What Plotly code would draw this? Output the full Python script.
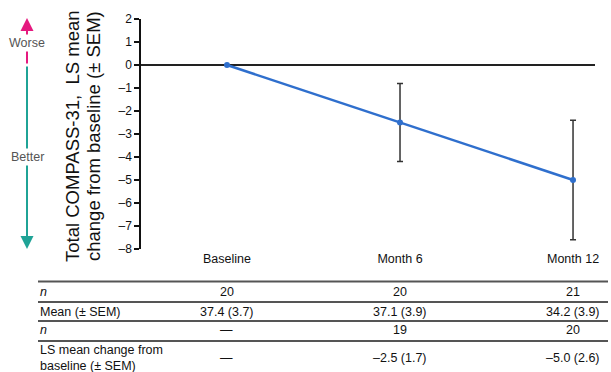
import plotly.graph_objects as go

# ---- data ----
timepoints = ["Baseline", "Month 6", "Month 12"]
ls_change = [0.0, -2.5, -5.0]
ls_sem = [None, 1.7, 2.6]
n_obs = [20, 20, 21]
mean_obs = [37.4, 37.1, 34.2]
sem_obs = [3.7, 3.9, 3.9]
n_change = [None, 19, 20]
y_ticks = list(range(-8, 3))

FONT = "Liberation Sans, Arial, sans-serif"

# plot-area geometry (pixels)
L, R, T, B = 141, 595, 19, 249
W, H = R - L, B - T


def px(x):
    return (x - L) / W


def py(y):
    return (B - y) / H


def dash(v):
    return str(v).replace("-", "–")


xs = list(range(len(timepoints)))

fig = go.Figure()
fig.add_trace(go.Scatter(
    x=xs, y=ls_change, mode="lines+markers",
    line=dict(color="#2f6fcd", width=2.5),
    marker=dict(color="#2f6fcd", size=6),
    error_y=dict(type="data", array=ls_sem, visible=True,
                 color="#333333", thickness=1.5, width=3),
    showlegend=False, cliponaxis=False,
))

annotations = []
shapes = []

# y-axis title (two lines)
annotations.append(dict(xref="paper", yref="paper", x=px(72), y=py(136),
                        text="Total COMPASS-31,  LS mean", textangle=-90,
                        showarrow=False, xanchor="center", yanchor="middle",
                        font=dict(family=FONT, size=18.5, color="#111")))
annotations.append(dict(xref="paper", yref="paper", x=px(93), y=py(136),
                        text="change from baseline (± SEM)", textangle=-90,
                        showarrow=False, xanchor="center", yanchor="middle",
                        font=dict(family=FONT, size=18.5, color="#111")))

# Worse / Better arrows
ax_x = px(27)
annotations.append(dict(xref="paper", yref="paper", x=ax_x, y=py(249),
                        ax=0, ay=65 - 249, axref="pixel", ayref="pixel",
                        text="", showarrow=True, arrowhead=2, arrowsize=1.3,
                        arrowwidth=2, arrowcolor="#1fa396"))
annotations.append(dict(xref="paper", yref="paper", x=ax_x, y=py(18),
                        ax=0, ay=65 - 18, axref="pixel", ayref="pixel",
                        text="", showarrow=True, arrowhead=2, arrowsize=1.3,
                        arrowwidth=2, arrowcolor="#e5197f"))
for lbl, yy in [("Worse", 43), ("Better", 157)]:
    annotations.append(dict(xref="paper", yref="paper", x=ax_x, y=py(yy),
                            text=lbl, showarrow=False, bgcolor="white",
                            xanchor="center", yanchor="middle", borderpad=1,
                            font=dict(family=FONT, size=12.5, color="#555")))

# table
row_labels = ["<i>n</i>", "Mean (± SEM)", "<i>n</i>",
              "LS mean change from<br>baseline (± SEM)"]
row_vals = [
    [str(v) for v in n_obs],
    [f"{m} ({s})" for m, s in zip(mean_obs, sem_obs)],
    ["—" if v is None else str(v) for v in n_change],
    ["—" if s is None else f"{dash(f'{c:.1f}')} ({s})" for c, s in zip(ls_change, ls_sem)],
]
row_y = [292, 311.5, 330, 358]
line_y = [281.5, 302, 321, 341]
for ly in line_y:
    shapes.append(dict(type="line", xref="paper", yref="paper",
                       x0=px(38), x1=px(608), y0=py(ly), y1=py(ly),
                       line=dict(color="#555", width=2)))
for lbl, vals, ry in zip(row_labels, row_vals, row_y):
    annotations.append(dict(xref="paper", yref="paper", x=px(38), y=py(ry),
                            text=lbl, showarrow=False, xanchor="left",
                            yanchor="middle", align="left",
                            font=dict(family=FONT, size=12.5, color="#111")))
    for xi, v in zip(xs, vals):
        annotations.append(dict(xref="x", yref="paper", x=xi, y=py(ry),
                                text=v, showarrow=False, xanchor="center",
                                yanchor="middle",
                                font=dict(family=FONT, size=12.5, color="#111")))

fig.update_layout(
    width=611, height=372, autosize=False,
    margin=dict(l=L, r=611 - R, t=T, b=372 - B),
    paper_bgcolor="white", plot_bgcolor="white",
    font=dict(family=FONT, color="#111"),
    xaxis=dict(range=[-0.497, 2.127], tickvals=xs, ticktext=timepoints,
               showline=False, showgrid=False, zeroline=False, ticks="",
               tickfont=dict(size=12.5, color="#111")),
    yaxis=dict(range=[-8, 2], tickvals=y_ticks,
               ticktext=[dash(v) for v in y_ticks],
               showline=True, linecolor="#111", linewidth=1.5,
               ticks="outside", ticklen=5, tickwidth=1.5, tickcolor="#111",
               showgrid=False, zeroline=True, zerolinecolor="#222",
               zerolinewidth=1.5, tickfont=dict(size=12, color="#111")),
    annotations=annotations, shapes=shapes,
)

fig.write_html("out.html", config={"displayModeBar": False},
               post_script="document.body.style.margin='0';"
                           "document.body.style.overflow='hidden';")
